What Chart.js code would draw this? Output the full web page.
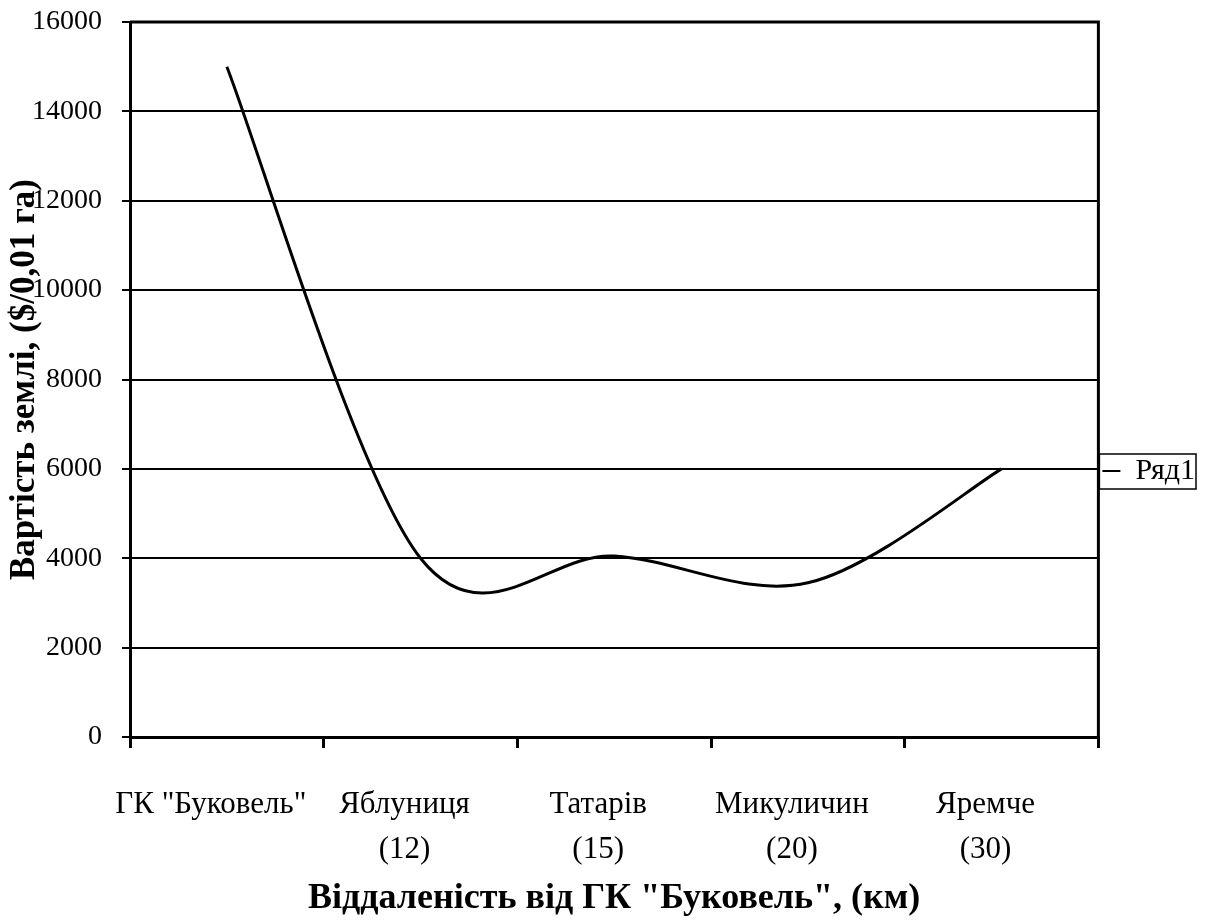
<!DOCTYPE html>
<html>
<head>
<meta charset="utf-8">
<script src="https://cdn.jsdelivr.net/npm/chart.js@4.4.1/dist/chart.umd.min.js"></script>
<style>
  html, body { margin: 0; padding: 0; background: #ffffff; }
  #wrap { position: relative; width: 1205px; height: 920px; background: #ffffff; }
</style>
</head>
<body>
<div id="wrap"><canvas id="c"></canvas></div>
<script>
// ---- data ----
const places = ['ГК "Буковель"', 'Яблуниця', 'Татарів', 'Микуличин', 'Яремче'];
const distances = ['', '(12)', '(15)', '(20)', '(30)'];
const landPrice = [15000, 4000, 4050, 3450, 6000];
const yTicks = [0, 2000, 4000, 6000, 8000, 10000, 12000, 14000, 16000];
const seriesName = 'Ряд1';
const yTitle = 'Вартість землі, ($/0,01 га)';
const xTitle = 'Віддаленість від ГК "Буковель", (км)';

const labels = places.map((p, i) => distances[i] ? [p, distances[i]] : [p]);

// Excel-like smoothing: uniform Catmull-Rom control points on the scaled points
const excelSmooth = {
  id: 'excelSmooth',
  beforeDatasetDraw(chart, args) {
    const meta = args.meta;
    const line = meta.dataset;
    const pts = meta.data;
    if (!line || pts.length < 2) return;
    line.updateControlPoints(chart.chartArea, 'x');
    const n = pts.length;
    for (let i = 0; i < n; i++) {
      const prev = pts[Math.max(i - 1, 0)], next = pts[Math.min(i + 1, n - 1)], cur = pts[i];
      const dx = (next.x - prev.x) / 6, dy = (next.y - prev.y) / 6;
      cur.cp1x = cur.x - dx; cur.cp1y = cur.y - dy;
      cur.cp2x = cur.x + dx; cur.cp2y = cur.y + dy;
    }
    line._path = undefined;
  }
};

// frame around plot area and legend
const frames = {
  id: 'frames',
  afterDraw(chart) {
    const ctx = chart.ctx;
    const a = chart.chartArea;
    ctx.save();
    ctx.strokeStyle = '#000';
    ctx.lineWidth = 3;
    ctx.beginPath();
    ctx.moveTo(a.left, a.top);
    ctx.lineTo(a.right, a.top);
    ctx.lineTo(a.right, a.bottom);
    ctx.stroke();
    const lg = chart.legend;
    if (lg && lg.legendHitBoxes && lg.legendHitBoxes.length) {
      const h = lg.legendHitBoxes[0];
      ctx.lineWidth = 1.5;
      ctx.strokeRect(h.left - 3, h.top - 2, h.width + 4, h.height + 5);
    }
    ctx.restore();
  }
};

new Chart(document.getElementById('c'), {
  type: 'line',
  data: {
    labels: labels,
    datasets: [{
      label: seriesName,
      data: landPrice,
      borderColor: '#000',
      backgroundColor: '#000',
      borderWidth: 3,
      pointRadius: 0,
      tension: 0.4,
      fill: false
    }]
  },
  plugins: [excelSmooth, frames],
  options: {
    responsive: true,
    maintainAspectRatio: false,
    animation: false,
    layout: { padding: { top: 22, right: 0, bottom: 0, left: 0 } },
    plugins: {
      tooltip: { enabled: false },
      legend: {
        position: 'right',
        labels: {
          color: '#000',
          font: { family: 'Liberation Serif', size: 30 },
          usePointStyle: true,
          pointStyle: 'line',
          pointStyleWidth: 18,
          padding: 4,
          generateLabels(chart) {
            const items = Chart.defaults.plugins.legend.labels.generateLabels(chart);
            items.forEach(it => { it.lineWidth = 2; });
            return items;
          }
        }
      }
    },
    scales: {
      x: {
        type: 'category',
        offset: true,
        afterFit(s) { s.height = 183; s.paddingLeft = 0; s.paddingRight = 0; },
        grid: {
          display: true,
          offset: true,
          drawOnChartArea: false,
          drawTicks: true,
          tickLength: 11,
          color: '#000',
          lineWidth: 3
        },
        border: { display: true, color: '#000', width: 3 },
        ticks: {
          color: '#000',
          font: { family: 'Liberation Serif', size: 31, lineHeight: 1.45 },
          padding: 34,
          labelOffset: -16,
          maxRotation: 0,
          autoSkip: false
        },
        title: {
          display: true,
          text: xTitle,
          color: '#000',
          font: { family: 'Liberation Serif', size: 36, weight: 'bold' },
          padding: { top: 0, bottom: 0 }
        }
      },
      y: {
        min: 0,
        max: 16000,
        afterFit(s) { s.width = 130; s.paddingTop = 0; s.paddingBottom = 0; },
        afterBuildTicks(s) { s.ticks = yTicks.map(v => ({ value: v })); },
        grid: {
          color: '#000',
          lineWidth: 2,
          drawTicks: true,
          tickLength: 8
        },
        border: { display: true, color: '#000', width: 3 },
        ticks: {
          color: '#000',
          font: { family: 'Liberation Serif', size: 28 },
          padding: 20,
          callback: v => String(v)
        },
        title: {
          display: true,
          text: yTitle,
          color: '#000',
          font: { family: 'Liberation Serif', size: 35, weight: 'bold' },
          padding: { top: 4, bottom: 0 }
        }
      }
    }
  }
});
</script>
</body>
</html>
